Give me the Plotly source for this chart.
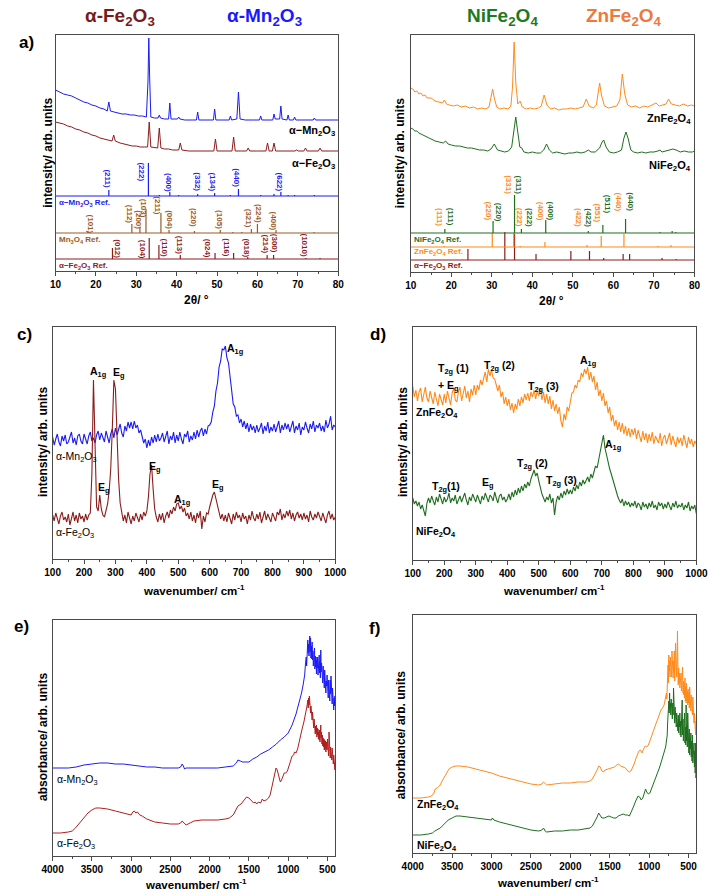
import plotly.graph_objects as go

FONT = "Liberation Sans, Arial, Helvetica, sans-serif"
W, H = 720, 894

BLUE = "#1b1bf5"
MAROON = "#8b1c1c"
BROWN = "#9a5a26"
GREEN = "#1f6e1f"
ORANGE = "#ff8a1c"
RED = "#b01e1e"
AXC = "#4a4a4a"

# ---------------- Panel a (left): XRD alpha-Mn2O3 / alpha-Fe2O3 ----------------
xrd_mn = [(10,181),(11,179),(12,177),(13,176),(14,175),(15,173),(16,171),(17,169),(18,168),(19,166),(20,165),
          (21,163),(22,162),(22.8,160),(23.2,169),(23.6,160),(24.5,159),(25.5,158),(26.5,157),(27.5,157),(28.5,156),
          (29.5,156),(30.5,155),(31.5,155),(32.5,154),(32.9,190),(33.1,233),(33.3,195),(33.6,154),(34.5,153),
          (35.4,153),(35.7,156),(36.0,153),(37,152),(38.0,152),(38.3,168),(38.6,152),(40.2,152),(40.5,154),(40.8,152),
          (42,151),(44,151),(44.9,151),(45.2,159),(45.5,151),(47,151),(49.1,151),(49.4,162),(49.7,151),(51,151),
          (53,151),(53.3,155),(53.6,151),(54.9,152),(55.3,179),(55.7,152),(57,151),(59,151),(60.5,151),(60.8,155),
          (61.1,151),(63.8,151),(64.1,157),(64.4,152),(65.5,152),(65.8,165),(66.1,152),(67.3,151),(67.6,156),
          (67.9,151),(68.9,151),(69.2,154),(69.5,151),(71,151),(73.8,151),(74.1,153),(74.4,151),(77,151),(80,151)]
xrd_fe = [(10,149),(11,148),(12,147),(13,145),(14,144),(15,142),(16,141),(17,139),(18,138),(19,136),(20,135),
          (21,133),(22,132),(23,131),(24.0,130),(24.4,136),(24.8,130),(26,128),(27,127),(28,126),(29,125),(30,125),
          (31,124),(32,124),(32.8,124),(33.2,149),(33.6,124),(35.3,123),(35.7,143),(36.1,123),(37,122),(38,122),
          (39,121),(40.5,121),(40.9,128),(41.3,121),(43,120),(45,120),(47,120),(49.2,120),(49.6,132),(50.0,120),
          (52,120),(53.7,120),(54.1,134),(54.5,120),(56,120),(57.3,120),(57.7,123),(58.1,120),(60,120),(62.1,120),
          (62.5,128),(62.9,120),(63.7,120),(64.1,128),(64.5,120),(66,120),(69.3,120),(69.7,121),(70.1,120),
          (71.5,120),(71.9,123),(72.3,120),(75.1,120),(75.5,123),(75.9,120),(78,120),(80,120)]

mn_ref_pos = [23.2, 33.0, 35.7, 38.3, 40.5, 45.2, 49.4, 53.3, 55.3, 60.8, 64.1, 65.8, 67.6, 69.2, 74.1]
mn_ref_h = [6, 33, 1, 4, 1, 2, 3, 1, 7, 1, 2, 4, 1, 1, 1]
mn_ref_base = 75
mn_ref_labels = ["(211)", "(222)", "(400)", "(332)", "(134)", "(440)", "(622)"]
mn_ref_lx = [22.9, 31.3, 38.1, 45.2, 48.9, 54.9, 65.7]
mn_ref_ly = [92, 99, 89, 89, 89, 93, 89]

mn3o4_pos = [18.0, 28.9, 30.9, 32.4, 36.1, 38.1, 44.4, 50.8, 53.9, 56.1, 58.5, 60.0, 64.6, 74.0]
mn3o4_h = [2, 9, 6, 24, 20, 3, 2, 3, 1, 1, 4, 9, 3, 1]
mn3o4_base = 38
mn3o4_labels = ["(101)", "(112)", "(200)", "(103)", "(211)", "(004)", "(220)", "(105)", "(321)", "(224)", "(400)"]
mn3o4_lx = [18.9, 28.5, 30.6, 32.0, 35.3, 38.3, 44.3, 50.7, 58.0, 60.4, 64.2]
mn3o4_ly = [47, 57, 51, 63, 65, 51, 54, 51, 53, 58, 50]

fe_ref_pos = [24.1, 33.2, 35.6, 40.9, 49.5, 54.1, 57.6, 62.4, 64.0, 72.0, 75.5]
fe_ref_h_a = [11, 21, 14, 4, 6, 6, 2, 4, 4, 1, 1]
fe_ref_base_a = 12
fe_ref_labels = ["(012)", "(104)", "(110)", "(113)", "(024)", "(116)", "(018)", "(214)", "(300)", "(1010)"]
fe_ref_lx = [25.4, 31.7, 37.0, 40.9, 47.8, 52.4, 57.3, 62.0, 64.4, 71.9]
fe_ref_ly = [22, 22, 23, 26, 23, 23, 23, 27, 28, 26]

# ---------------- Panel a (right): XRD NiFe2O4 / ZnFe2O4 ----------------
xrd_zn = [(10,184),(10.5,183),(11,180),(11.5,181),(12,178),(12.5,179),(13,176),(13.5,177),(14,174),(15,174),(16,171),
          (17,170),(17.8,169),(18.3,172),(18.8,168),(19.5,167),(20.5,166),(21.5,167),(22.5,165),(23.5,166),(24.5,164),
          (25.5,165),(26.5,163),(27.5,164),(28.5,163),(29.3,165),(29.8,174),(30.2,183),(30.6,174),(31.2,165),(32,163),
          (33,164),(34,163),(34.7,166),(35.1,185),(35.5,230),(35.9,190),(36.4,168),(37.0,171),(37.5,165),(38.5,163),
          (39.5,164),(40.5,163),(41.5,164),(42.2,166),(42.9,177),(43.6,167),(44.5,163),(45.5,164),(46.5,162),
          (47.5,163),(48.5,163),(49.5,164),(50.5,163),(51.5,164),(52.5,165),(53.3,173),(54.0,166),(55,164),
          (55.8,167),(56.2,178),(56.6,189),(57.1,176),(57.8,166),(58.8,164),(59.8,165),(60.8,166),(61.6,172),
          (62.2,198),(62.8,178),(63.5,167),(64.5,165),(65.5,166),(66.5,164),(67.5,166),(68.5,165),(69.5,167),
          (70.5,169),(71.3,166),(72.3,167),(73.0,168),(73.6,173),(74.3,168),(75.3,167),(76.3,166),(77.3,168),
          (78.3,166),(79.3,167),(80,166)]
xrd_ni = [(10,144),(10.5,143),(11,141),(11.5,141),(12,139),(13,137),(14,135),(15,133),(16,131),(17,130),(18,129),
          (18.6,131),(19.2,128),(20,127),(21,126),(22,126),(23,125),(24,124),(25,124),(26,123),(27,122),(28,122),
          (29,121),(29.8,123),(30.6,128),(31.4,122),(32.3,121),(33.2,120),(34.1,121),(34.9,125),(35.4,140),
          (35.9,155),(36.4,140),(36.9,125),(37.4,124),(37.9,120),(39,119),(40,120),(41,119),(42,119),(42.8,122),
          (43.5,128),(44.2,122),(45,119),(46,120),(47,119),(48,118),(49,119),(50,119),(51,120),(52,119),(53,120),
          (53.8,122),(54.5,120),(55.5,120),(56.6,124),(57.2,130),(57.6,132),(58.2,125),(59,120),(60,119),(61,120),
          (62,122),(62.6,134),(63.1,140),(63.6,134),(64.3,122),(65,120),(66,119),(67,120),(68,119),(69,120),(70,120),
          (71,121),(71.5,122),(72,120),(73,121),(74,122),(74.7,123),(75.5,122),(76.5,120),(77.5,121),(78.5,120),
          (79.5,120),(80,121)]

ni_ref_pos = [18.4, 30.3, 35.6, 37.3, 43.3, 53.8, 57.4, 63.0, 71.5, 74.5, 75.4]
ni_ref_h = [4, 12, 38, 4, 13, 2, 8, 14, 1, 2, 1]
ni_ref_base = 39
zn_ref_pos = [18.2, 30.1, 35.4, 37.0, 43.1, 53.5, 57.0, 62.6, 71.0, 74.2]
zn_ref_h = [1, 14, 14, 1, 5, 2, 11, 13, 1, 2]
zn_ref_base = 25
fe_ref_h_b = [11, 28, 26, 6, 9, 9, 2, 6, 6, 2, 1]
fe_ref_base_b = 12

ni_labels = ["(111)", "(220)", "(311)", "(222)", "(400)", "(422)", "(511)", "(440)"]
ni_lx = [20.0, 31.8, 36.8, 39.4, 44.7, 53.9, 58.7, 64.3]
ni_ly = [55, 60, 87, 54, 61, 54, 68, 70]
zn_labels = ["(111)", "(220)", "(331)", "(222)", "(400)", "(422)", "(551)", "(440)"]
zn_lx = [17.2, 29.2, 34.2, 37.0, 42.2, 51.5, 56.3, 61.5]
zn_ly = [55, 61, 87, 55, 61, 54, 59, 70]

# ---------------- Raman (panels c, d): wavenumber grid 100..1000 step 5 ----------------
raman_x = list(range(100, 1001, 5))
raman_mn = [122,114,120,125,117,113,123,118,124,115,
            117,122,127,116,121,114,123,125,118,115,
            125,120,115,123,127,118,121,116,124,128,
            119,126,121,117,128,122,116,125,130,121,
            131,124,129,135,126,122,133,128,137,131,
            137,130,138,131,134,126,129,123,116,120,
            111,119,113,122,116,124,117,125,118,121,
            126,117,122,128,115,123,119,127,116,124,
            118,127,120,115,125,122,128,117,123,119,
            127,120,129,122,128,131,123,130,125,133,
            134,137,147,153,168,176,192,198,210,209,
            213,201,196,180,170,155,152,143,144,136,
            140,132,138,130,136,127,135,129,133,126,
            134,127,131,136,125,133,128,137,126,132,
            128,135,127,133,138,126,134,129,136,130,
            135,127,132,138,126,133,129,136,124,132,
            129,137,131,126,135,130,138,127,134,131,
            136,128,133,127,139,131,135,143,129,134,
            132]
raman_fe = [44,38,46,40,35,43,47,39,42,37,
            45,34,41,47,38,44,36,46,40,43,
            37,45,39,44,46,85,179,110,52,48,
            64,50,44,42,48,55,68,90,130,179,
            170,120,80,56,45,38,44,36,47,40,
            35,43,38,46,41,37,45,39,47,43,
            48,62,85,94,70,50,42,37,45,39,
            46,36,43,47,41,49,45,52,48,55,
            56,50,53,47,51,43,46,40,47,38,
            44,36,46,41,48,30,43,37,46,45,
            52,58,64,67,60,52,46,40,45,38,
            44,37,46,40,35,45,39,47,41,44,
            37,46,40,43,35,44,39,48,41,38,
            45,40,47,36,43,48,39,45,41,37,
            46,42,38,47,44,50,39,45,41,48,
            43,49,40,46,38,44,47,41,45,39,
            46,40,44,37,48,42,39,45,41,47,
            43,38,46,41,36,44,48,40,45,39,
            42]
raman_zn = [174,163,170,159,168,172,158,166,173,162,
            158,169,163,156,168,161,154,166,160,155,
            166,157,169,162,155,167,172,160,158,168,
            173,159,166,174,162,169,158,171,165,175,
            165,175,170,180,175,183,188,178,191,184,
            190,182,181,175,169,175,163,168,156,163,
            154,161,150,157,147,156,151,161,154,163,
            157,166,160,167,159,168,163,170,161,169,
            164,172,160,168,157,166,156,164,151,160,
            149,156,146,153,139,133,146,140,153,149,
            160,167,168,175,172,180,178,187,183,191,
            186,193,180,188,178,184,170,178,164,170,
            159,167,154,159,147,153,139,145,134,140,
            130,138,128,137,126,134,124,132,123,131,
            125,132,121,130,124,118,129,120,127,117,
            126,119,128,116,124,121,117,127,114,122,
            125,116,122,127,115,124,118,113,123,117,
            122,114,125,118,112,123,116,121,113,119,
            116]
raman_ni = [62,56,59,54,58,51,55,49,44,57,
            62,57,64,59,55,63,58,66,60,56,
            63,58,61,67,57,62,59,65,56,61,
            64,58,62,67,60,55,63,59,66,61,
            58,65,61,56,64,60,67,62,58,65,
            63,59,68,62,57,64,66,60,63,58,
            61,66,60,68,63,70,65,72,67,74,
            69,76,72,78,74,81,86,90,84,87,
            79,72,66,62,58,63,60,66,57,62,
            45,58,64,60,67,62,69,65,71,66,
            70,66,73,69,75,71,78,74,80,76,
            79,83,78,86,82,89,94,92,101,108,
            118,125,112,104,97,91,86,80,76,70,
            64,60,57,61,54,59,55,58,53,57,
            54,59,52,57,55,50,58,53,56,51,
            57,53,59,52,55,50,58,54,57,51,
            56,52,58,54,50,57,53,59,52,55,
            53,57,50,55,52,58,49,54,51,55,
            46]

# ---------------- Panel e: FTIR ----------------
ir_mn = [(4000,88),(3900,88),(3800,88),(3700,89),(3600,91),(3500,92),(3400,93),(3300,93),(3200,92),(3100,92),
         (3000,91),(2900,90),(2800,89),(2700,89),(2600,88),(2500,88),(2400,88),(2370,89),(2350,92),(2335,90),
         (2320,87),(2300,88),(2200,88),(2100,88),(2000,88),(1900,88),(1800,89),(1700,90),(1660,93),(1640,96),
         (1610,95),(1580,94),(1540,94),(1500,94),(1450,97),(1400,99),(1350,102),(1300,104),(1250,106),(1200,109),
         (1150,112),(1100,116),(1050,119),(1000,123),(950,131),(900,142),(870,150),(850,156),(830,163),(810,171),
         (800,176),(790,181),(780,192),(770,199),(765,190),(760,205),(755,198),(750,216),(745,203),(740,212),
         (735,200),(730,209),(725,220),(720,204),(715,218),(710,198),(705,210),(700,197),(695,214),(690,196),
         (685,205),(680,190),(675,206),(670,193),(665,208),(660,187),(655,200),(650,189),(645,199),(640,182),
         (635,196),(630,188),(625,199),(620,181),(615,192),(610,185),(605,201),(600,183),(595,195),(590,178),
         (585,206),(580,184),(575,193),(570,176),(565,186),(560,173),(555,190),(550,178),(545,185),(540,168),
         (535,186),(530,170),(525,178),(520,163),(515,175),(510,170),(505,181),(500,164),(495,172),(490,158),
         (485,176),(480,160),(475,170),(470,155),(465,176),(460,162),(455,180),(450,160),(445,173),(440,152),
         (435,168),(430,150),(425,163),(420,146),(415,158),(410,150),(405,160),(400,152)]
ir_fe = [(4000,23),(3900,23),(3800,24),(3750,25),(3710,28),(3690,30),(3650,33),(3600,38),(3550,43),(3500,46),
         (3450,48),(3400,48),(3300,47),(3200,45),(3100,43),(3000,41),(2980,44),(2960,45),(2940,43),(2920,44),
         (2890,41),(2860,40),(2800,37),(2700,34),(2600,33),(2500,32),(2400,32),(2370,33),(2350,35),(2330,33),
         (2300,31),(2250,33),(2200,35),(2100,36),(2000,36),(1900,36),(1800,37),(1750,38),(1700,41),(1670,46),
         (1640,50),(1600,52),(1560,56),(1530,59),(1500,58),(1470,55),(1440,53),(1420,54),(1400,52),(1380,54),
         (1350,53),(1330,57),(1310,55),(1280,56),(1250,58),(1230,61),(1210,68),(1190,78),(1170,85),(1155,88),
         (1140,86),(1120,80),(1100,74),(1085,76),(1070,80),(1050,83),(1030,83),(1010,85),(990,90),(970,96),
         (950,100),(930,101),(920,104),(900,103),(880,107),(860,114),(840,122),(820,128),(800,134),(790,138),
         (780,140),(770,146),(760,150),(750,156),(745,148),(740,158),(735,151),(730,160),(725,147),(720,156),
         (715,143),(710,150),(705,140),(700,148),(695,136),(690,144),(685,132),(680,140),(675,128),(670,137),
         (665,126),(660,134),(655,122),(650,130),(645,124),(640,131),(635,119),(630,128),(625,121),(620,127),
         (615,117),(610,124),(605,116),(600,126),(595,114),(590,123),(585,131),(580,118),(575,124),(570,112),
         (565,121),(560,110),(555,118),(550,109),(545,117),(540,106),(535,116),(530,107),(525,115),(520,104),
         (510,114),(505,106),(500,117),(495,103),(490,112),(485,100),(480,124),(475,102),(470,111),(465,98),
         (460,109),(455,99),(450,107),(445,96),(440,108),(435,95),(430,104),(425,92),(420,101),(415,90),
         (410,98),(405,86),(400,93)]

# ---------------- Panel f: FTIR ----------------
ir_zn = [(4000,55),(3900,55),(3800,56),(3760,57),(3730,60),(3715,64),(3690,65),(3660,67),(3620,73),(3580,79),
         (3540,84),(3500,86),(3450,87),(3400,87),(3300,86),(3200,84),(3100,82),(3000,80),(2900,77),(2800,75),
         (2700,73),(2600,71),(2500,69),(2400,68),(2360,69),(2340,71),(2320,69),(2300,68),(2200,69),(2100,70),
         (2000,70),(1900,71),(1800,71),(1750,72),(1720,74),(1690,78),(1660,83),(1640,87),(1620,86),(1600,82),
         (1580,81),(1560,83),(1520,84),(1480,85),(1440,86),(1410,88),(1390,89),(1360,87),(1330,86),(1300,85),
         (1270,82),(1250,81),(1230,82),(1210,85),(1190,89),(1170,94),(1150,99),(1130,102),(1110,103),(1090,100),
         (1070,104),(1050,107),(1030,106),(1010,108),(990,112),(970,117),(950,121),(930,126),(910,130),(890,134),
         (870,139),(850,143),(830,145),(810,148),(800,152),(790,157),(780,160),(775,154),(770,162),(765,175),
         (760,188),(755,170),(750,198),(745,182),(740,192),(735,176),(730,196),(725,180),(720,190),(715,176),
         (710,202),(705,184),(700,196),(695,175),(690,192),(685,180),(680,202),(675,172),(670,186),(665,210),
         (660,180),(655,206),(650,176),(645,194),(640,222),(635,188),(630,168),(625,185),(620,170),(615,180),
         (610,165),(605,176),(600,168),(595,180),(590,162),(585,176),(580,166),(575,186),(570,160),(565,172),
         (560,158),(555,170),(550,155),(545,175),(540,152),(535,166),(530,150),(525,170),(520,152),(515,162),
         (510,148),(505,164),(500,150),(495,160),(490,145),(485,166),(480,148),(475,156),(470,142),(465,158),
         (460,140),(455,150),(450,138),(445,156),(440,135),(435,148),(430,130),(425,140),(420,122),(415,136),
         (410,118),(405,132),(400,128)]
ir_ni = [(4000,18),(3900,18),(3800,19),(3750,20),(3720,22),(3690,23),(3650,25),(3600,29),(3550,33),(3500,35),
         (3450,37),(3400,37),(3300,36),(3200,35),(3100,34),(3000,33),(2990,35),(2970,33),(2900,31),(2800,29),
         (2700,27),(2600,25),(2500,23),(2400,22),(2360,23),(2340,25),(2320,22),(2300,21),(2200,22),(2100,22),
         (2000,23),(1900,23),(1800,24),(1750,25),(1720,27),(1690,31),(1660,36),(1640,40),(1620,38),(1600,35),
         (1570,35),(1540,36),(1510,37),(1480,36),(1450,35),(1420,35),(1390,37),(1360,38),(1330,39),(1300,38),
         (1270,38),(1250,37),(1230,40),(1200,46),(1170,52),(1140,57),(1120,56),(1100,53),(1080,55),(1060,60),
         (1045,64),(1030,61),(1010,59),(990,60),(970,64),(950,68),(930,72),(910,76),(890,80),(870,85),(850,90),
         (830,95),(810,100),(790,106),(780,112),(770,118),(765,130),(760,146),(755,135),(750,152),(745,140),
         (740,160),(735,144),(730,150),(725,138),(720,154),(715,140),(710,148),(705,134),(700,150),(695,138),
         (690,165),(685,140),(680,152),(675,130),(670,146),(665,128),(660,142),(655,126),(650,140),(645,124),
         (640,136),(635,122),(630,138),(625,120),(620,134),(615,126),(610,140),(605,118),(600,132),(595,116),
         (590,142),(585,120),(580,153),(575,118),(570,134),(565,112),(560,130),(555,115),(550,140),(545,110),
         (540,126),(535,108),(530,148),(525,112),(520,128),(515,106),(510,140),(505,104),(500,120),(495,100),
         (490,124),(485,98),(480,116),(475,104),(470,120),(465,96),(460,112),(455,92),(450,118),(445,90),
         (440,104),(435,96),(430,110),(425,86),(420,102),(415,80),(410,110),(405,75),(400,82)]

# ---------------- layout helpers ----------------
BOX = {1: (46, 35, 338, 271), 2: (413, 35, 706, 272), 3: (43, 327, 335, 559),
       4: (415, 327, 708, 560), 5: (43, 620, 335, 856), 6: (415, 615, 708, 853)}


def ax(n):
    return ("x", "y") if n == 1 else (f"x{n}", f"y{n}")


fig = go.Figure()


def line(pairs_or_x, y=None, n=1, color="black", width=1.0):
    if y is None:
        xs = [p[0] for p in pairs_or_x]
        ys = [p[1] for p in pairs_or_x]
    else:
        xs, ys = pairs_or_x, y
    xa, ya = ax(n)
    fig.add_trace(go.Scatter(x=xs, y=ys, mode="lines", line=dict(color=color, width=width),
                             xaxis=xa, yaxis=ya, showlegend=False, hoverinfo="skip"))


def sticks(pos, hts, base, n, color, x0=10, x1=80):
    xs, ys = [x0, x1, None], [base, base, None]
    for p, h in zip(pos, hts):
        xs += [p, p, None]
        ys += [base, base + h, None]
    xa, ya = ax(n)
    fig.add_trace(go.Scatter(x=xs, y=ys, mode="lines", line=dict(color=color, width=1.2),
                             xaxis=xa, yaxis=ya, showlegend=False, hoverinfo="skip", connectgaps=False))


annotations = []


def note(text, x, y, n=None, size=10, color="black", bold=True, angle=0, xanchor="center", yanchor="middle"):
    if n is None:
        xref, yref = "paper", "paper"
        x, y = x / W, 1 - y / H
    else:
        xa, ya = ax(n)
        xref, yref = xa, ya
    annotations.append(dict(text=text, x=x, y=y, xref=xref, yref=yref, showarrow=False, textangle=angle,
                            font=dict(family=FONT, size=size, color=color,
                                      weight="bold" if bold else "normal"),
                            xanchor=xanchor, yanchor=yanchor))


# ---- panel a left
line(xrd_mn, n=1, color=BLUE, width=1)
line(xrd_fe, n=1, color=MAROON, width=1)
sticks(mn_ref_pos, mn_ref_h, mn_ref_base, 1, BLUE)
sticks(mn3o4_pos, mn3o4_h, mn3o4_base, 1, BROWN)
sticks(fe_ref_pos, fe_ref_h_a, fe_ref_base_a, 1, MAROON)
for t, x, y in zip(mn_ref_labels, mn_ref_lx, mn_ref_ly):
    note(t, x, y, 1, size=8, color=BLUE, angle=90)
for t, x, y in zip(mn3o4_labels, mn3o4_lx, mn3o4_ly):
    note(t, x, y, 1, size=8, color=BROWN, angle=90)
for t, x, y in zip(fe_ref_labels, fe_ref_lx, fe_ref_ly):
    note(t, x, y, 1, size=8, color=MAROON, angle=90)
note("α−Mn<sub>2</sub>O<sub>3</sub> Ref.", 10.4, 68, 1, size=8, color=BLUE, xanchor="left")
note("Mn<sub>3</sub>O<sub>4</sub> Ref.", 10.4, 31, 1, size=8, color=BROWN, xanchor="left")
note("α−Fe<sub>2</sub>O<sub>3</sub> Ref.", 10.4, 5, 1, size=8, color=MAROON, xanchor="left")
note("α−Mn<sub>2</sub>O<sub>3</sub>", 79.6, 140, 1, size=11, xanchor="right")
note("α−Fe<sub>2</sub>O<sub>3</sub>", 79.6, 107, 1, size=11, xanchor="right")

# ---- panel a right
line(xrd_zn, n=2, color=ORANGE, width=1)
line(xrd_ni, n=2, color=GREEN, width=1)
sticks(fe_ref_pos, fe_ref_h_b, fe_ref_base_b, 2, MAROON)
sticks(zn_ref_pos, zn_ref_h, zn_ref_base, 2, ORANGE)
sticks(ni_ref_pos, ni_ref_h, ni_ref_base, 2, GREEN)
for t, x, y in zip(ni_labels, ni_lx, ni_ly):
    note(t, x, y, 2, size=8, color=GREEN, angle=90)
for t, x, y in zip(zn_labels, zn_lx, zn_ly):
    note(t, x, y, 2, size=8, color=ORANGE, angle=90)
note("NiFe<sub>2</sub>O<sub>4</sub> Ref.", 10.4, 32, 2, size=8, color=GREEN, xanchor="left")
note("ZnFe<sub>2</sub>O<sub>4</sub> Ref.", 10.4, 20, 2, size=8, color=ORANGE, xanchor="left")
note("α−Fe<sub>2</sub>O<sub>3</sub> Ref.", 10.4, 6, 2, size=8, color=MAROON, xanchor="left")
note("ZnFe<sub>2</sub>O<sub>4</sub>", 79.6, 153, 2, size=11, xanchor="right")
note("NiFe<sub>2</sub>O<sub>4</sub>", 79.6, 106, 2, size=11, xanchor="right")

# ---- panel c
line(raman_x, raman_mn, n=3, color=BLUE, width=1.1)
line(raman_x, raman_fe, n=3, color=MAROON, width=1.1)
note("A<sub>1g</sub>", 245, 187, 3, size=10.5)
note("E<sub>g</sub>", 310, 186, 3, size=10.5)
note("E<sub>g</sub>", 262, 71, 3, size=10.5)
note("E<sub>g</sub>", 427, 92, 3, size=10.5)
note("A<sub>1g</sub>", 512, 59, 3, size=10.5)
note("E<sub>g</sub>", 627, 74, 3, size=10.5)
note("A<sub>1g</sub>", 682, 210, 3, size=10.5)
note("α-Mn<sub>2</sub>O<sub>3</sub>", 104, 102, 3, size=10.5, bold=False, xanchor="left")
note("α-Fe<sub>2</sub>O<sub>3</sub>", 104, 26, 3, size=10.5, bold=False, xanchor="left")

# ---- panel d
line(raman_x, raman_zn, n=4, color=ORANGE, width=1.1)
line(raman_x, raman_ni, n=4, color=GREEN, width=1.1)
note("T<sub>2g</sub> (1)", 230, 191, 4, size=10.5)
note("+ E<sub>g</sub>", 214, 174, 4, size=10.5)
note("T<sub>2g</sub> (2)", 376, 194, 4, size=10.5)
note("T<sub>2g</sub> (3)", 515, 173, 4, size=10.5)
note("A<sub>1g</sub>", 656, 199, 4, size=10.5)
note("ZnFe<sub>2</sub>O<sub>4</sub>", 104, 147, 4, size=10.5, xanchor="left")
note("T<sub>2g</sub>(1)", 207, 73, 4, size=10.5)
note("E<sub>g</sub>", 340, 77, 4, size=10.5)
note("T<sub>2g</sub> (2)", 481, 96, 4, size=10.5)
note("T<sub>2g</sub> (3)", 571, 79, 4, size=10.5)
note("A<sub>1g</sub>", 736, 115, 4, size=10.5)
note("NiFe<sub>2</sub>O<sub>4</sub>", 104, 28, 4, size=10.5, xanchor="left")

# ---- panel e
line(ir_mn, n=5, color=BLUE, width=1)
line(ir_fe, n=5, color=RED, width=1)
note("α-Mn<sub>2</sub>O<sub>3</sub>", 3975, 76, 5, size=10.5, bold=False, xanchor="left")
note("α-Fe<sub>2</sub>O<sub>3</sub>", 3975, 12, 5, size=10.5, bold=False, xanchor="left")

# ---- panel f
line(ir_zn, n=6, color=ORANGE, width=1)
line(ir_ni, n=6, color=GREEN, width=1)
note("ZnFe<sub>2</sub>O<sub>4</sub>", 3975, 48, 6, size=10.5, xanchor="left")
note("NiFe<sub>2</sub>O<sub>4</sub>", 3975, 7, 6, size=10.5, xanchor="left")

# ---- titles, panel letters, axis titles (pixel positions)
note("α-Fe<sub>2</sub>O<sub>3</sub>", 113, 17, size=19, color="#7a1b1b")
note("α-Mn<sub>2</sub>O<sub>3</sub>", 262, 17, size=19, color="#1a1aff")
note("NiFe<sub>2</sub>O<sub>4</sub>", 508, 17, size=19, color="#1e7a1e")
note("ZnFe<sub>2</sub>O<sub>4</sub>", 633, 17, size=19, color="#f0783c")
note("a)", 16, 43, size=17)
note("c)", 14, 334, size=17)
note("d)", 379, 334, size=17)
note("e)", 11, 626, size=17)
note("f)", 375, 628, size=17)

note("intensity/ arb. units", 38, 153, size=12, angle=-90)
note("intensity/ arb. units", 402, 153, size=12, angle=-90)
note("intensity/ arb. units", 33, 442, size=12, angle=-90)
note("intensity/ arb. units", 405, 442, size=12, angle=-90)
note("absorbance/ arb. units", 33, 737, size=12, angle=-90)
note("absorbance/ arb. units", 403, 735, size=12, angle=-90)

note("2θ/ °", 192, 300, size=12)
note("2θ/ °", 558, 301, size=12)
note("wavenumber/ cm<sup>-1</sup>", 189, 590, size=11.5)
note("wavenumber/ cm<sup>-1</sup>", 561, 590, size=11.5)
note("wavenumber/ cm<sup>-1</sup>", 191, 884, size=11.5)
note("wavenumber/ cm<sup>-1</sup>", 555, 882, size=11.5)

# ---- axes
XCFG = {1: ([10, 80], 10, 10, 5), 2: ([10, 80], 10, 10, 5), 3: ([100, 1000], 100, 100, 50),
        4: ([100, 1000], 100, 100, 50), 5: ([4000, 400], 0, 500, 250), 6: ([4000, 400], 0, 500, 250)}

layout = dict(width=W, height=H, margin=dict(l=0, r=0, t=0, b=0), paper_bgcolor="white",
              plot_bgcolor="white", showlegend=False, annotations=annotations)
for n, (l, t, r, b) in BOX.items():
    rng, t0, dt, mdt = XCFG[n]
    xa, ya = ax(n)
    xk = "xaxis" if n == 1 else f"xaxis{n}"
    yk = "yaxis" if n == 1 else f"yaxis{n}"
    layout[xk] = dict(domain=[l / W, r / W], range=rng, anchor=ya, showline=True, linecolor=AXC, linewidth=1,
                      mirror=True, ticks="outside", ticklen=4, tickwidth=1, tickcolor=AXC, tick0=t0, dtick=dt,
                      minor=dict(dtick=mdt, tick0=t0, ticks="outside", ticklen=2, tickwidth=1, tickcolor=AXC),
                      tickfont=dict(family=FONT, size=10, color="black", weight="bold"),
                      showgrid=False, zeroline=False, fixedrange=True)
    layout[yk] = dict(domain=[1 - b / H, 1 - t / H], range=[0, b - t], anchor=xa, showline=True,
                      linecolor=AXC, linewidth=1, mirror=True, ticks="", showticklabels=False,
                      showgrid=False, zeroline=False, fixedrange=True)

fig.update_layout(**layout)
fig.write_html("out.html")
